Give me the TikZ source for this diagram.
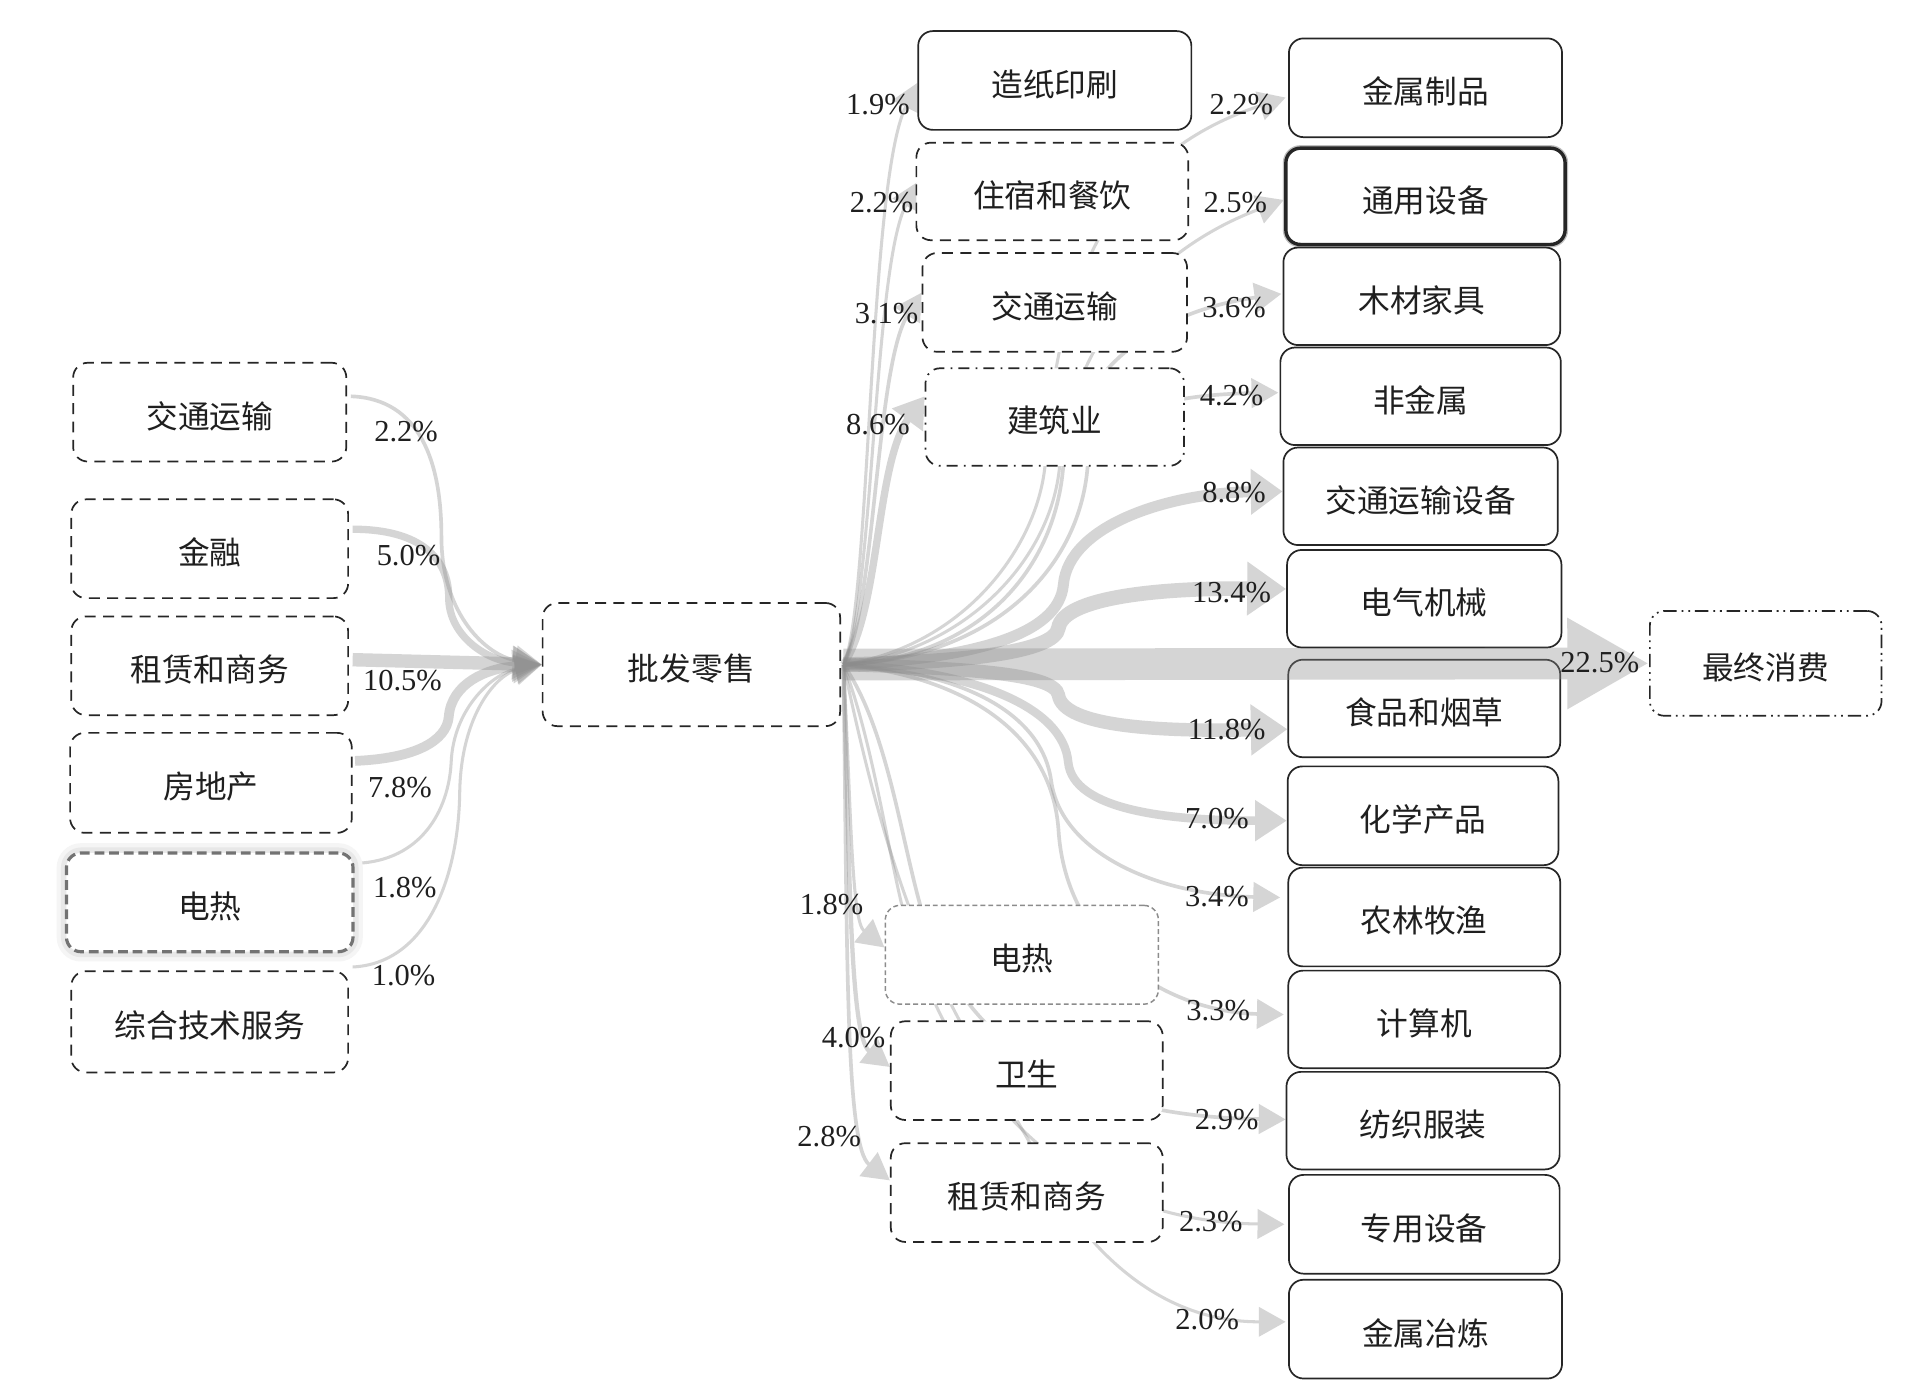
\documentclass[tikz,border=0pt]{standalone}
\usepackage{fontspec}
\setmainfont{Liberation Serif}
\newfontfamily\cjk{Noto Sans CJK SC}
\usetikzlibrary{arrows.meta,calc}
\newcommand\myflow[2]{\begin{scope}[transparency group, opacity=0.36]\draw[draw=black!45, fill=none, #1] #2;\end{scope}}
\begin{document}
\begin{tikzpicture}[x=1pt,y=-1pt,
  box/.style={draw=black!85, line width=1.4pt, rounded corners=12pt, fill=white, inner sep=0pt,
    text height=29pt, text depth=3pt,
    font=\cjk\fontsize{26}{30}\selectfont, text=black!88},
  solidbox/.style={box},
  dashbox/.style={box, dash pattern=on 9pt off 6pt},
  ddbox/.style={box, dash pattern=on 9pt off 5pt on 1.5pt off 5pt},
  dddbox/.style={box, dash pattern=on 11pt off 4pt on 1.5pt off 4pt on 1.5pt off 4pt},
  glowbox/.style={box, draw=black!55, line width=2.6pt, dash pattern=on 8pt off 4pt,
    preaction={draw=black!4, line width=16pt, solid},
    preaction={draw=black!9, line width=9pt, solid}},
  lightbox/.style={box, draw=black!45, line width=1.2pt, dash pattern=on 4pt off 2.5pt},
  boldbox/.style={box, line width=2.8pt, preaction={draw=black!25, line width=5pt}},
  lw/.style={line width=#1},
  tipA/.style={-{Triangle[length=22pt,width=24pt]}},
  pct/.style={font=\fontsize{25}{30}\selectfont, text=black!88, inner sep=0pt},
]
\useasboundingbox (0,0) rectangle (1568,1140);

% ---------- node placeholders (for anchors) ----------
\path
  (172,338) node[dashbox, minimum width=224pt, minimum height=81pt] (L1) {}
  (172,450) node[dashbox, minimum width=227pt, minimum height=81pt] (L2) {}
  (172,546) node[dashbox, minimum width=227pt, minimum height=81pt] (L3) {}
  (173,642) node[dashbox, minimum width=231pt, minimum height=82pt] (L4) {}
  (172,740) node[dashbox, minimum width=235pt, minimum height=81pt] (L5) {}
  (172,838) node[dashbox, minimum width=227pt, minimum height=83pt] (L6) {}
  (567,545) node[dashbox, minimum width=244pt, minimum height=101pt] (C) {}
  (865,66) node[box, minimum width=224pt, minimum height=81pt] (M1) {}
  (863,157) node[box, minimum width=223pt, minimum height=80pt] (M2) {}
  (865,248) node[box, minimum width=217pt, minimum height=81pt] (M3) {}
  (865,342) node[box, minimum width=212pt, minimum height=80pt] (M4) {}
  (838,783) node[box, minimum width=224pt, minimum height=81pt] (B1) {}
  (842,878) node[box, minimum width=223pt, minimum height=81pt] (B2) {}
  (842,978) node[box, minimum width=223pt, minimum height=81pt] (B3) {}
  (1169,72) node[box, minimum width=224pt, minimum height=81pt] (R1) {}
  (1169,161) node[box, minimum width=229pt, minimum height=79pt] (R2) {}
  (1166,243) node[box, minimum width=227pt, minimum height=80pt] (R3) {}
  (1165,325) node[box, minimum width=230pt, minimum height=80pt] (R4) {}
  (1165,407) node[box, minimum width=225pt, minimum height=80pt] (R5) {}
  (1168,491) node[box, minimum width=225pt, minimum height=80pt] (R6) {}
  (1168,581) node[box, minimum width=223pt, minimum height=80pt] (R7) {}
  (1167,669) node[box, minimum width=222pt, minimum height=81pt] (R8) {}
  (1168,752) node[box, minimum width=223pt, minimum height=81pt] (R9) {}
  (1168,836) node[box, minimum width=223pt, minimum height=80pt] (R10) {}
  (1167,919) node[box, minimum width=224pt, minimum height=80pt] (R11) {}
  (1168,1004) node[box, minimum width=222pt, minimum height=81pt] (R12) {}
  (1169,1090) node[box, minimum width=224pt, minimum height=81pt] (R13) {}
  (1448,544) node[box, minimum width=190pt, minimum height=86pt] (F) {};
\fill[white] (0,0) rectangle (1568,1140);
\coordinate (S) at ($(C.east)+(2,0)$);

% ---------- flows into 批发零售 ----------
\myflow{lw=3, tipA}{($(L1.east)+(3,-13)$) .. controls (345,327) and (362,380) .. (362,440)
   .. controls (362,505) and (400,538) .. (C.west)}
\myflow{lw=6, -{Triangle[length=24pt,width=26pt]}}{($(L2.east)+(3,-16)$) .. controls (345,434) and (368,458) .. (368,490)
   .. controls (368,522) and (400,542) .. (C.west)}
\myflow{lw=11, -{Triangle[length=24pt,width=28pt]}}{($(L3.east)+(3,-5)$) -- (C.west)}
\myflow{lw=8, -{Triangle[length=24pt,width=26pt]}}{($(L4.east)+(2,-18)$) .. controls (340,622) and (366,608) .. (368,588)
   .. controls (370,560) and (400,548) .. (C.west)}
\myflow{lw=2.5, tipA}{($(L5.east)+(2,-32)$) .. controls (345,706) and (368,665) .. (370,625)
   .. controls (372,580) and (405,552) .. (C.west)}
\myflow{lw=2.5, tipA}{($(L6.east)+(3,-45)$) .. controls (350,790) and (376,720) .. (377,650)
   .. controls (378,585) and (408,553) .. (C.west)}

% ---------- flows to upper middle boxes ----------
\myflow{lw=2.5, tipA}{(S) .. controls (714,500) and (712,150) .. ($(M1.west)+(0,2)$)}
\myflow{lw=2.5, tipA}{(S) .. controls (716,500) and (716,220) .. ($(M2.west)+(2,-8)$)}
\myflow{lw=3, tipA}{(S) .. controls (718,500) and (718,300) .. ($(M3.west)+(0,-8)$)}
\myflow{lw=6, -{Triangle[length=24pt,width=30pt]}}{(S) .. controls (722,500) and (718,380) .. ($(M4.west)+(0,-17)$)}

% ---------- flows to lower middle boxes ----------
\myflow{lw=2.5, tipA}{(S) .. controls (698,660) and (698,755) .. ($(B1.west)+(0,-6)$)}
\myflow{lw=3.5, tipA}{(S) .. controls (697,720) and (697,850) .. ($(B2.west)+(0,-3)$)}
\myflow{lw=3, tipA}{(S) .. controls (695,780) and (693,940) .. ($(B3.west)+(0,-10)$)}

% ---------- flows to right column ----------
\myflow{lw=2.5, tipA}{(S) .. controls (790,530) and (850,450) .. (857,382)
   .. controls (865,250) and (900,130) .. ($(R1.west)+(-2,8)$)}
\myflow{lw=2.5, tipA}{(S) .. controls (790,535) and (862,460) .. (869,382)
   .. controls (875,300) and (930,210) .. ($(R2.west)+(-1,3)$)}
\myflow{lw=3, tipA}{(S) .. controls (800,540) and (865,470) .. (872,382)
   .. controls (878,320) and (930,258) .. ($(R3.west)+(-1,-2)$)}
\myflow{lw=3, tipA}{(S) .. controls (810,540) and (885,470) .. (892,382)
   .. controls (897,345) and (940,324) .. ($(R4.west)+(-1,-3)$)}
\myflow{lw=9, -{Triangle[length=26pt,width=36pt]}}{(S) .. controls (800,540) and (868,520) .. (872,480)
   .. controls (876,430) and (960,404) .. ($(R5.west)+(0,-4)$)}
\myflow{lw=12, -{Triangle[length=32pt,width=42pt]}}{(S) .. controls (790,543) and (865,535) .. (868,515)
   .. controls (872,490) and (950,482) .. ($(R6.west)+(0,-8)$)}
\myflow{lw=11, -{Triangle[length=30pt,width=40pt]}}{(S) .. controls (790,548) and (865,552) .. (868,570)
   .. controls (872,596) and (950,600) .. ($(R7.west)+(0,17)$)}
\myflow{lw=7, -{Triangle[length=26pt,width=32pt]}}{(S) .. controls (800,550) and (872,580) .. (876,625)
   .. controls (880,665) and (960,673) .. ($(R8.west)+(0,4)$)}
\myflow{lw=3, tipA}{(S) .. controls (800,552) and (855,590) .. (862,640)
   .. controls (870,700) and (950,734) .. ($(R9.west)+(-6,-16)$)}
\myflow{lw=3, tipA}{(S) .. controls (790,555) and (862,600) .. (868,680)
   .. controls (874,780) and (960,830) .. ($(R10.west)+(-3,-4)$)}
\myflow{lw=3, tipA}{(S) .. controls (730,600) and (740,700) .. (760,760)
   .. controls (800,870) and (900,916) .. ($(R11.west)+(0,-1)$)}
\myflow{lw=2.5, tipA}{(S) .. controls (720,620) and (730,720) .. (750,780)
   .. controls (790,900) and (880,1002) .. ($(R12.west)+(-3,0)$)}
\myflow{lw=2.5, tipA}{(S) .. controls (712,640) and (740,760) .. (800,860)
   .. controls (850,945) and (875,995) .. (900,1022)
   .. controls (950,1075) and (1000,1084) .. ($(R13.west)+(-2,-6)$)}

% ---------- boxes ----------
\node[dashbox, minimum width=224pt, minimum height=81pt] at (L1) {交通运输};
\node[dashbox, minimum width=227pt, minimum height=81pt] at (L2) {金融};
\node[dashbox, minimum width=227pt, minimum height=81pt] at (L3) {租赁和商务};
\node[dashbox, minimum width=231pt, minimum height=82pt] at (L4) {房地产};
\node[glowbox, minimum width=235pt, minimum height=81pt] at (L5) {电热};
\node[dashbox, minimum width=227pt, minimum height=83pt] at (L6) {综合技术服务};
\node[dashbox, minimum width=244pt, minimum height=101pt] at (C) {批发零售};
\node[solidbox, minimum width=224pt, minimum height=81pt] at (M1) {造纸印刷};
\node[dashbox, minimum width=223pt, minimum height=80pt] at (M2) {住宿和餐饮};
\node[dashbox, minimum width=217pt, minimum height=81pt] at (M3) {交通运输};
\node[ddbox, minimum width=212pt, minimum height=80pt] at (M4) {建筑业};
\node[lightbox, minimum width=224pt, minimum height=81pt] at (B1) {电热};
\node[dashbox, minimum width=223pt, minimum height=81pt] at (B2) {卫生};
\node[dashbox, minimum width=223pt, minimum height=81pt] at (B3) {租赁和商务};
\node[solidbox, minimum width=224pt, minimum height=81pt] at (R1) {金属制品};
\node[boldbox, minimum width=229pt, minimum height=79pt] at (R2) {通用设备};
\node[solidbox, minimum width=227pt, minimum height=80pt] at (R3) {木材家具};
\node[solidbox, minimum width=230pt, minimum height=80pt] at (R4) {非金属};
\node[solidbox, minimum width=225pt, minimum height=80pt] at (R5) {交通运输设备};
\node[solidbox, minimum width=225pt, minimum height=80pt] at (R6) {电气机械};
\node[solidbox, minimum width=223pt, minimum height=80pt] at (R7) {食品和烟草};
\node[solidbox, minimum width=222pt, minimum height=81pt] at (R8) {化学产品};
\node[solidbox, minimum width=223pt, minimum height=81pt] at (R9) {农林牧渔};
\node[solidbox, minimum width=223pt, minimum height=80pt] at (R10) {计算机};
\node[solidbox, minimum width=224pt, minimum height=80pt] at (R11) {纺织服装};
\node[solidbox, minimum width=222pt, minimum height=81pt] at (R12) {专用设备};
\node[solidbox, minimum width=224pt, minimum height=81pt] at (R13) {金属冶炼};
\node[dddbox, minimum width=190pt, minimum height=86pt] at (F) {最终消费};

% ---------- final consumption band ----------
\myflow{lw=26, -{Triangle[length=67pt,width=70pt]}}{(S) -- (F.west)}

% ---------- labels ----------
\node[pct] at (333,354) {2.2\%};
\node[pct] at (335,456) {5.0\%};
\node[pct] at (330,558) {10.5\%};
\node[pct] at (328,646) {7.8\%};
\node[pct] at (332,728) {1.8\%};
\node[pct] at (331,800) {1.0\%};
\node[pct] at (720,86) {1.9\%};
\node[pct] at (723,166) {2.2\%};
\node[pct] at (727,257) {3.1\%};
\node[pct] at (720,348) {8.6\%};
\node[pct] at (682,742) {1.8\%};
\node[pct] at (700,851) {4.0\%};
\node[pct] at (680,932) {2.8\%};
\node[pct] at (1018,86) {2.2\%};
\node[pct] at (1013,166) {2.5\%};
\node[pct] at (1012,252) {3.6\%};
\node[pct] at (1010,324) {4.2\%};
\node[pct] at (1012,404) {8.8\%};
\node[pct] at (1010,486) {13.4\%};
\node[pct] at (1006,598) {11.8\%};
\node[pct] at (998,671) {7.0\%};
\node[pct] at (998,735) {3.4\%};
\node[pct] at (999,829) {3.3\%};
\node[pct] at (1006,918) {2.9\%};
\node[pct] at (993,1002) {2.3\%};
\node[pct] at (990,1082) {2.0\%};
\node[pct] at (1312,543) {22.5\%};
\end{tikzpicture}
\end{document}
